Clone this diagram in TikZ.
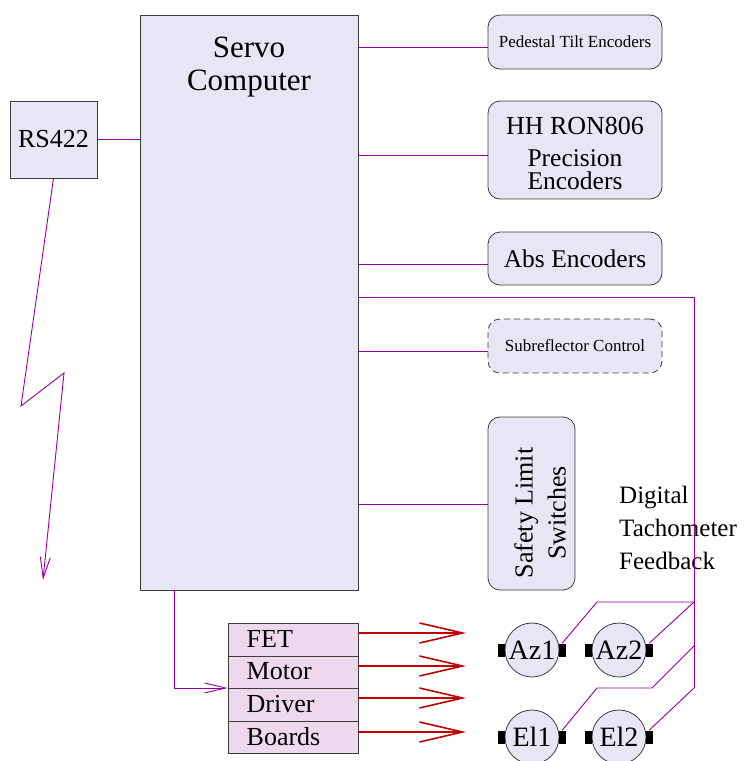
\documentclass[tikz,border=0pt]{standalone}
\usepackage{fontspec}
\setmainfont{Liberation Serif}
\usetikzlibrary{arrows.meta}
\definecolor{boxfill}{RGB}{230,230,245}
\definecolor{drvfill}{RGB}{238,216,238}
\definecolor{wire}{RGB}{150,0,160}
\definecolor{power}{RGB}{190,0,0}
\definecolor{edge}{RGB}{60,60,60}
\tikzset{
  plainbox/.style={draw=edge, fill=boxfill, line width=0.8pt, inner sep=0pt},
  encbox/.style={plainbox, rounded corners=12pt},
  wireline/.style={draw=wire, line width=0.9pt},
  wirearrow/.style={wireline, -{Straight Barb[length=21pt,width=10pt,line width=0.9pt]}},
  powerarrow/.style={draw=power, line width=2.2pt, -{Straight Barb[length=43pt,width=20pt,line width=1.6pt]}},
  drvrow/.style={draw=edge, fill=drvfill, line width=0.8pt, minimum width=130pt, minimum height=32.5pt, inner sep=0pt},
  motor/.style={circle, draw=edge, fill=boxfill, line width=0.8pt, minimum size=54pt, inner sep=0pt, font=\fontsize{28}{30}\selectfont},
  plug/.style={fill=black, minimum width=7pt, minimum height=13pt, inner sep=0pt},
}
\begin{document}
\begin{tikzpicture}[x=1pt,y=-1pt]
\useasboundingbox (0,0) rectangle (746,761);

% main computer and serial interface
\node[plainbox, minimum width=218pt, minimum height=575pt] (comp) at (249,302.5) {};
\node[font=\fontsize{31}{33}\selectfont, align=center, anchor=north] (comptxt) at (249,33) {Servo\\Computer};
\node[plainbox, minimum width=87pt, minimum height=77pt, font=\fontsize{26}{28}\selectfont] (rs) at (53.5,139.5) {RS422};

% encoders and peripherals
\node[encbox, minimum width=174pt, minimum height=54pt, font=\fontsize{17}{20}\selectfont] (ped) at (575,42) {Pedestal Tilt Encoders};
\node[encbox, minimum width=174pt, minimum height=98pt] (hh) at (575,150) {};
\node[font=\fontsize{26}{28}\selectfont] (hhtxt) at (575,126) {HH RON806};
\node[font=\fontsize{25.5}{23}\selectfont, align=center] (prectxt) at (575,170) {Precision\\Encoders};
\node[encbox, minimum width=174pt, minimum height=53pt, font=\fontsize{25.5}{28}\selectfont] (abs) at (575,258.5) {Abs Encoders};
\node[encbox, dashed, dash pattern=on 6pt off 4pt, minimum width=174pt, minimum height=54pt, font=\fontsize{17}{20}\selectfont] (sub) at (575,346) {Subreflector Control};
\node[encbox, minimum width=87pt, minimum height=173pt] (safe) at (531.5,503.5) {};
\node[rotate=90, align=center, font=\fontsize{26}{33}\selectfont] (safetxt) at (540,513) {Safety Limit\\Switches};

\node[anchor=north west, align=left, font=\fontsize{25}{33}\selectfont, inner sep=0pt] (tacho) at (619,486) {Digital\\Tachometer\\Feedback};

% motor driver boards
\node[drvrow, anchor=north west] (fet) at (227.5,623) {};
\node[drvrow, anchor=north west] (mot) at (227.5,655.5) {};
\node[drvrow, anchor=north west] (drv) at (227.5,688) {};
\node[drvrow, anchor=north west] (brd) at (227.5,720.5) {};
\foreach \n/\t in {fet/FET, mot/Motor, drv/Driver, brd/Boards}
  \node[anchor=west, font=\fontsize{26}{28}\selectfont, inner sep=0pt] at ([xshift=19pt,yshift=1pt]\n.west) {\t};

% motors
\node[motor] (az1) at (532,650) {Az1};
\node[motor] (az2) at (619,650) {Az2};
\node[motor] (el1) at (532,737) {El1};
\node[motor] (el2) at (619,737) {El2};
\foreach \m in {az1,az2,el1,el2}{
  \node[plug, anchor=east] (\m l) at ([xshift=1pt]\m.west) {};
  \node[plug, anchor=west] (\m r) at ([xshift=-1pt]\m.east) {};
}

% signal wiring from the computer
\draw[wireline] (rs.east) -- (rs.east -| comp.west);
\draw[wireline] (comp.east |- 0,47) -- (ped.west |- 0,47);
\draw[wireline] (comp.east |- 0,155) -- (hh.west |- 0,155);
\draw[wireline] (comp.east |- 0,264) -- (abs.west |- 0,264);
\draw[wireline] (comp.east |- 0,351) -- (sub.west |- 0,351);
\draw[wireline] (comp.east |- 0,504) -- (safe.west |- 0,504);

% radio link from the serial interface
\coordinate (zz1) at (21,406);
\coordinate (zz2) at (64,373);
\coordinate (zzend) at (43,580);
\draw[wirearrow, line join=miter] (rs.south) -- (zz1) -- (zz2) -- (zzend);

% computer to driver boards
\coordinate (drvbend) at (174,688);
\draw[wirearrow] (comp.south -| drvbend) -- (drvbend) -- (drv.north west);

% tachometer feedback bus
\coordinate (busa) at (694,297);
\coordinate (busb) at (694,602);
\coordinate (busc) at (694,646);
\coordinate (busd) at (694,688);
\draw[wireline] (comp.east |- busa) -- (busa) -- (busd);
\draw[wireline] (busb) -- (597,602) -- (az1r.north);
\draw[wireline] (busb) -- (az2r.north);
\draw[wireline] (busc) -- (652,688) -- (597,688) -- (el1r.north);
\draw[wireline] (busd) -- (el2r.north);

% drive power to the motors
\coordinate (pa) at (466,633);
\coordinate (pb) at (466,666);
\coordinate (pc) at (466,698);
\coordinate (pd) at (466,732);
\draw[powerarrow] (fet.east |- pa) -- (pa);
\draw[powerarrow] (fet.east |- pb) -- (pb);
\draw[powerarrow] (fet.east |- pc) -- (pc);
\draw[powerarrow] (fet.east |- pd) -- (pd);
\end{tikzpicture}
\end{document}
